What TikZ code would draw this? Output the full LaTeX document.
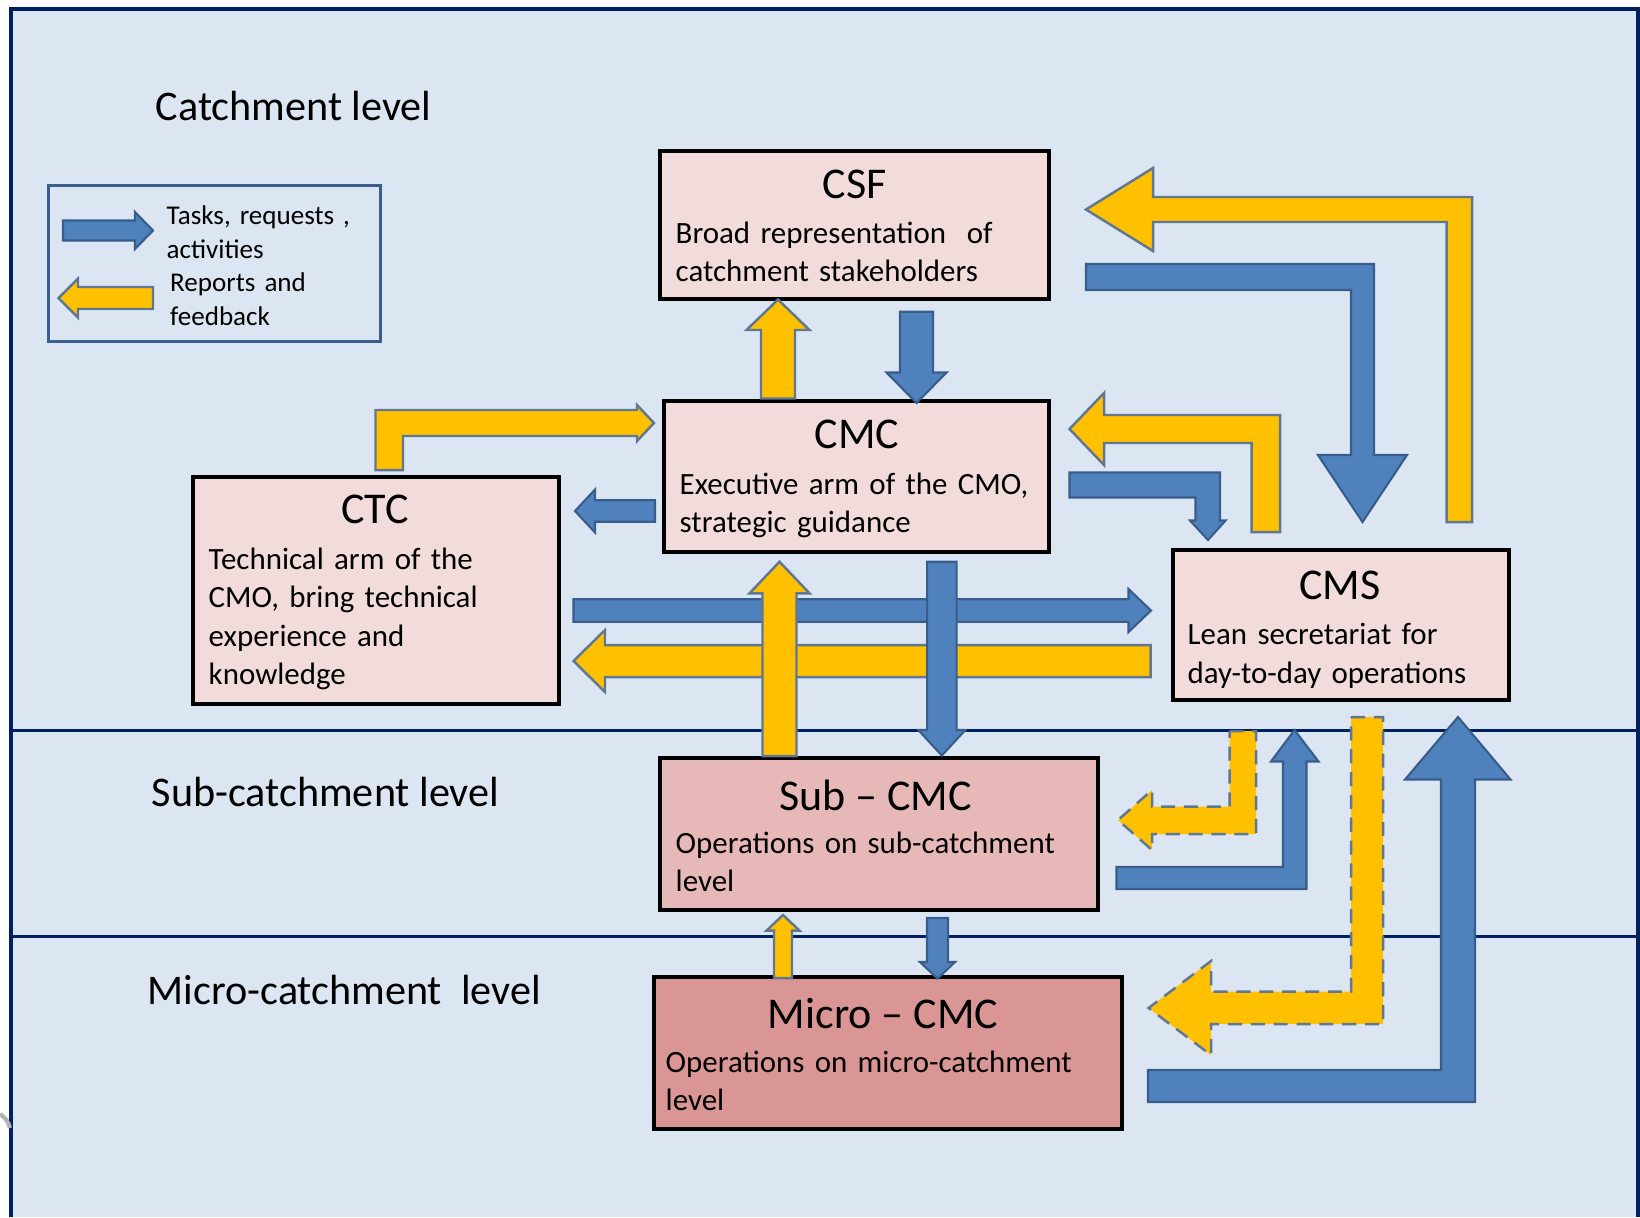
\documentclass[tikz,border=0pt]{standalone}
\usepackage{fontspec}
\setmainfont{Carlito}
\usetikzlibrary{fit}
\definecolor{bgblue}{HTML}{DCE6F2}
\definecolor{framenavy}{HTML}{002060}
\definecolor{boxpink}{HTML}{F2DCDB}
\definecolor{subpink}{HTML}{E6B9B8}
\definecolor{micropink}{HTML}{D99694}
\definecolor{arrowblue}{HTML}{4F81BD}
\definecolor{arrowblueedge}{HTML}{385D8A}
\definecolor{arrowyellow}{HTML}{FFC000}
\definecolor{arrowyellowedge}{HTML}{5F7793}
\definecolor{legendedge}{HTML}{3B5E8C}
% block arrows: style, tail, head base, tip, centre, half shaft, half head
\newcommand{\harrow}[7]{\draw[#1] (#2,{#5-#6}) -- (#3,{#5-#6}) -- (#3,{#5-#7}) -- (#4,#5) -- (#3,{#5+#7}) -- (#3,{#5+#6}) -- (#2,{#5+#6}) -- cycle;}
\newcommand{\varrow}[7]{\draw[#1] ({#5-#6},#2) -- ({#5-#6},#3) -- ({#5-#7},#3) -- (#5,#4) -- ({#5+#7},#3) -- ({#5+#6},#3) -- ({#5+#6},#2) -- cycle;}
\tikzset{
  box/.style={draw=black,line width=0.9pt,inner sep=0pt},
  boxtitle/.style={font=\fontsize{12.5}{15}\selectfont,inner sep=0pt,anchor=base},
  boxtext/.style={font=\fontsize{8.8}{10.9}\selectfont,inner sep=0pt,anchor=base west,text width=4.5cm,align=left},
  levellabel/.style={font=\fontsize{12}{14}\selectfont,inner sep=0pt,anchor=base west},
  legendtext/.style={font=\fontsize{7.7}{9.8}\selectfont,inner sep=0pt,anchor=base west,text width=2cm,align=left},
  bluearrow/.style={fill=arrowblue,draw=arrowblueedge,line width=0.6pt},
  yellowarrow/.style={fill=arrowyellow,draw=arrowyellowedge,line width=0.7pt},
  dashedyellow/.style={yellowarrow,dash pattern=on 4pt off 2.5pt}
}
\begin{document}
\begin{tikzpicture}[x=0.01cm,y=-0.01cm]
\useasboundingbox (0,0) rectangle (1640,1217);
\fill[bgblue] (11,9) rectangle (1638,1217);
\draw[framenavy,line width=0.9pt] (11,1217) -- (11,9) -- (1638,9) -- (1638,1217);
\draw[framenavy,line width=0.9pt] (11,730.5) -- (1638,730.5);
\draw[framenavy,line width=0.9pt] (11,936.5) -- (1638,936.5);
\draw[gray!60,line width=1.2pt] (0,1114) to[bend left=20] (10,1128);

\node[levellabel] (catchment) at (155,120.1) {Catchment level};
\node[levellabel] (subcatchment) at (151,806.1) {Sub-catchment level};
\node[levellabel] (microcatchment) at (147,1004.9) {Micro-catchment\ \ level};

\node[draw=legendedge,line width=0.85pt,inner sep=0pt,fit={(48.5,185.5) (380,341)}] (legend) {};
\harrow{bluearrow}{63}{135}{153}{230.5}{10}{18.5}
\harrow{yellowarrow}{153}{78}{58.5}{298}{11}{19.5}
\node[legendtext] (tasks) at (166,224) {Tasks, requests ,\\activities};
\node[legendtext] (reports) at (169.5,291) {Reports and\\feedback};

\node[box,fill=boxpink,fit={(660,151) (1049,299)}] (csf) {};
\node[boxtitle] (csftitle) at (854.5,198.2) {CSF};
\node[boxtext] (csftext) at (675,243.2) {Broad representation\ \ of\\catchment stakeholders};

\node[box,fill=boxpink,fit={(664,401) (1049,552)}] (cmc) {};
\node[boxtitle] (cmctitle) at (857,448.2) {CMC};
\node[boxtext] (cmctext) at (679,494.2) {Executive arm of the CMO,\\strategic guidance};

\node[box,fill=boxpink,fit={(193,477) (559,704)}] (ctc) {};
\node[boxtitle] (ctctitle) at (375,523.9) {CTC};
\node[boxtext] (ctctext) at (208,569.5) {Technical arm of the\\CMO, bring technical\\experience and\\knowledge};

\node[box,fill=boxpink,fit={(1173,550) (1509,700)}] (cms) {};
\node[boxtitle] (cmstitle) at (1340,599.8) {CMS};
\node[boxtext] (cmstext) at (1187,644.8) {Lean secretariat for\\day-to-day operations};

\node[box,fill=subpink,fit={(660,758) (1098,910)}] (sub) {};
\node[boxtitle] (subtitle) at (875.5,810.1) {Sub -- CMC};
\node[boxtext] (subtext) at (675,853.4) {Operations on sub-catchment\\level};

\node[box,fill=micropink,fit={(654,977) (1122,1129)}] (micro) {};
\node[boxtitle] (microtitle) at (883,1028.5) {Micro -- CMC};
\node[boxtext] (microtext) at (665,1072.5) {Operations on micro-catchment\\level};

\varrow{yellowarrow}{398.5}{330}{299.5}{778}{17}{31.5}
\varrow{bluearrow}{311.7}{372.5}{403}{916.5}{16.5}{30}
\draw[yellowarrow] (375.5,470) -- (375.5,410) -- (637,410) -- (637,405) -- (654,423) -- (637,441) -- (637,436) -- (403,436) -- (403,470) -- cycle;
\harrow{bluearrow}{655}{595}{575}{511}{10.75}{21.5}
\harrow{bluearrow}{573.5}{1128.5}{1151}{610.5}{11.3}{21.5}
\harrow{yellowarrow}{1150.5}{605}{573.5}{661}{16}{31}
\varrow{yellowarrow}{756}{593.3}{561.7}{779.5}{17}{30}
\varrow{bluearrow}{561.7}{730}{755.5}{941.8}{14.75}{23.5}
\varrow{yellowarrow}{978}{930.6}{915}{783}{9}{16.5}
\varrow{bluearrow}{918}{962}{978.6}{937.5}{10.5}{17.5}

\draw[yellowarrow] (1446.5,522) -- (1446.5,222) -- (1153,222) -- (1153,251) -- (1086,209.5) -- (1153,168) -- (1153,197) -- (1472,197) -- (1472,522) -- cycle;
\draw[bluearrow] (1086,264) -- (1374,264) -- (1374,455) -- (1407,455) -- (1362.5,522) -- (1318,455) -- (1351,455) -- (1351,290) -- (1086,290) -- cycle;
\draw[yellowarrow] (1251.5,532) -- (1251.5,443) -- (1104,443) -- (1104,465) -- (1069.5,429) -- (1104,393) -- (1104,415) -- (1280,415) -- (1280,532) -- cycle;
\draw[bluearrow] (1069.5,472.5) -- (1220,472.5) -- (1220,520.5) -- (1225.5,520.5) -- (1208,540) -- (1190,520.5) -- (1195.5,520.5) -- (1195.5,497.5) -- (1069.5,497.5) -- cycle;
\draw[dashedyellow] (1229.5,731) -- (1256,731) -- (1256,834) -- (1152,834) -- (1152,850) -- (1118,820) -- (1152,790) -- (1152,806.5) -- (1229.5,806.5) -- cycle;
\draw[bluearrow] (1116.5,867) -- (1283,867) -- (1283,761.5) -- (1271,761.5) -- (1294.5,730) -- (1318.5,761.5) -- (1306.5,761.5) -- (1306.5,889) -- (1116.5,889) -- cycle;
\draw[dashedyellow] (1351,717) -- (1383,717) -- (1383,1024) -- (1211,1024) -- (1211,1055) -- (1148.5,1008) -- (1211,961) -- (1211,991.5) -- (1351,991.5) -- cycle;
\draw[bluearrow] (1148,1070) -- (1441,1070) -- (1441,779.5) -- (1405,779.5) -- (1458,717) -- (1510.5,779.5) -- (1475,779.5) -- (1475,1102) -- (1148,1102) -- cycle;
\end{tikzpicture}
\end{document}
